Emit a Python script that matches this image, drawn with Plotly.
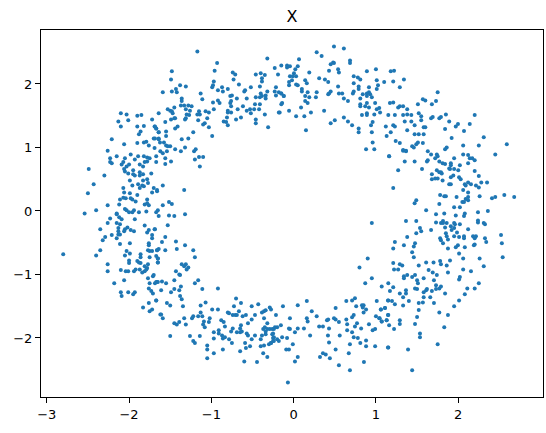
import plotly.graph_objects as go

title_text = "X"
x_ticks = [-3, -2, -1, 0, 1, 2]
y_ticks = [-2, -1, 0, 1, 2]

upper_left = [(-2.10,1.54),(-2.03,1.52),(-1.90,1.50),(-1.85,1.51),(-2.13,1.41),(-2.01,1.43),(-1.72,1.44),(-2.10,1.33),(-1.90,1.33),(-1.82,1.34),(-1.69,1.33),(-1.67,1.30),(-1.86,1.25),(-1.88,1.21),(-1.64,1.24),(-2.21,1.13),(-1.70,1.14),(-1.64,1.13),(-2.06,1.05),(-1.90,1.07),(-1.82,1.08),(-1.79,1.09),(-1.76,1.03),(-1.69,0.99),(-2.26,0.95),(-1.98,0.89),(-2.15,0.86),(-2.23,0.83),(-2.05,0.83),(-1.89,0.86),(-1.93,0.81),(-1.82,0.86),(-1.78,0.84),(-1.75,0.83),(-1.67,0.86),(-2.23,0.77),(-2.21,0.75),(-2.07,0.77),(-2.09,0.73),(-2.00,0.73),(-2.03,0.70),(-1.78,0.78),(-1.81,0.77),(-1.67,0.77),(-1.87,0.73),(-1.83,0.70),(-2.49,0.66),(-2.06,0.66),(-1.95,0.64),(-2.05,0.62),(-2.01,0.59),(-1.87,0.61),(-1.87,0.56),(-1.95,0.58),(-1.93,0.56),(-1.83,0.58),(-1.73,0.59),(-2.30,0.56),(-1.99,0.48),(-1.78,0.50),(-1.83,0.48),(-2.43,0.42),(-1.96,0.40),(-1.89,0.42),(-1.84,0.40),(-1.82,0.39),(-1.77,0.44),(-2.07,0.36),(-1.87,0.36),(-1.70,0.36),(-1.66,0.33),(-2.50,0.28),(-2.06,0.29),(-1.99,0.28),(-1.72,0.29),(-1.90,0.25),(-2.07,0.21),(-2.11,0.18),(-2.04,0.20),(-1.98,0.20),(-1.96,0.18),(-1.92,0.15),(-1.78,0.18),(-2.12,0.10),(-1.81,0.10),(-1.78,0.12),(-1.76,0.09),(-2.26,0.09),(-2.40,0.01),(-2.05,0.03),(-2.03,0.01),(-1.79,-0.01),(-1.94,0.01),(-1.96,-0.02),(-2.00,-0.02),(-1.88,-0.02),(-2.15,-0.04),(-2.54,-0.04),(-1.67,-0.02)]

lower_left = [(-2.23,-0.12),(-2.15,-0.05),(-2.12,-0.10),(-2.09,-0.13),(-1.93,-0.13),(-2.15,-0.19),(-2.11,-0.21),(-2.26,-0.19),(-1.81,-0.23),(-2.02,-0.26),(-2.05,-0.29),(-2.13,-0.27),(-2.35,-0.29),(-1.98,-0.30),(-1.94,-0.32),(-1.76,-0.30),(-1.78,-0.34),(-1.69,-0.29),(-2.06,-0.32),(-2.13,-0.32),(-2.11,-0.37),(-2.13,-0.37),(-2.21,-0.38),(-2.29,-0.41),(-2.32,-0.46),(-2.15,-0.43),(-1.72,-0.38),(-1.72,-0.43),(-2.11,-0.52),(-1.99,-0.51),(-1.76,-0.51),(-1.76,-0.54),(-2.35,-0.62),(-2.80,-0.68),(-2.40,-0.70),(-2.03,-0.63),(-1.99,-0.67),(-2.05,-0.70),(-1.86,-0.68),(-1.86,-0.73),(-1.77,-0.62),(-1.75,-0.63),(-1.72,-0.63),(-1.66,-0.62),(-1.75,-0.73),(-1.67,-0.71),(-1.65,-0.75),(-2.00,-0.78),(-2.00,-0.82),(-1.90,-0.79),(-1.88,-0.81),(-1.86,-0.82),(-1.65,-0.81),(-2.26,-0.84),(-1.77,-0.84),(-1.81,-0.87),(-1.78,-0.90),(-2.26,-0.95),(-2.10,-0.93),(-2.04,-0.95),(-2.01,-0.95),(-1.94,-0.95),(-1.92,-0.92),(-1.87,-0.92),(-1.84,-0.97),(-1.81,-0.95),(-1.79,-0.92),(-1.77,-1.06),(-1.71,-1.03),(-1.70,-1.01),(-2.06,-1.09),(-2.18,-1.14),(-1.75,-1.14),(-1.67,-1.12),(-1.65,-1.12),(-1.76,-1.22),(-1.73,-1.26),(-1.71,-1.30),(-2.10,-1.28),(-2.01,-1.28),(-1.93,-1.28),(-1.95,-1.31),(-2.09,-1.34),(-1.67,-1.41),(-1.76,-1.45),(-1.83,-1.52),(-1.72,-1.55),(-1.75,-1.58),(-1.62,-1.63)]

top_left = [(-1.17,2.51),(-0.32,2.40),(-0.93,2.33),(-0.15,2.29),(-0.23,2.25),(-0.96,2.21),(-1.48,2.20),(-0.74,2.18),(-0.71,2.15),(-0.46,2.15),(-0.40,2.17),(-0.35,2.14),(-0.19,2.15),(-1.49,2.07),(-0.73,2.07),(-0.385,2.09),(-0.385,2.04),(-0.97,2.04),(-1.38,1.98),(-1.31,1.96),(-0.98,1.98),(-0.99,1.95),(-0.665,1.99),(-0.87,1.95),(-0.80,1.92),(-0.86,1.88),(-0.92,1.90),(-0.52,1.95),(-0.41,1.96),(-0.215,1.95),(-0.23,1.88),(-1.43,1.92),(-1.48,1.88),(-1.59,1.87),(-1.42,1.87),(-1.13,1.85),(-0.59,1.90),(-0.60,1.88),(-0.40,1.85),(-0.32,1.88),(-0.18,1.87),(-0.15,1.85),(-0.34,1.82),(-0.75,1.82),(-0.77,1.81),(-0.46,1.79),(-0.41,1.79),(-0.385,1.81),(-0.69,1.77),(-0.57,1.77),(-0.34,1.77),(-0.12,1.81),(-0.215,1.82),(-1.11,1.76),(-0.92,1.74),(-1.36,1.77),(-1.36,1.73),(-0.98,1.71),(-0.90,1.70),(-0.76,1.73),(-0.77,1.70),(-0.47,1.68),(-0.41,1.68),(-0.14,1.70),(-1.37,1.66),(-1.33,1.66),(-1.28,1.66),(-1.24,1.65),(-1.45,1.63),(-0.616,1.65),(-0.76,1.65),(-1.53,1.60),(-1.50,1.58),(-1.31,1.60),(-1.26,1.58),(-1.48,1.57),(-1.47,1.54),(-0.97,1.60),(-0.68,1.60),(-0.80,1.58),(-0.80,1.55),(-0.76,1.55),(-0.53,1.60),(-0.57,1.58),(-0.48,1.60),(-0.42,1.60),(-0.52,1.54),(-1.64,1.54),(-1.07,1.57),(-1.03,1.55),(-1.15,1.57),(-1.17,1.52),(-1.14,1.52),(-1.30,1.52),(-1.27,1.51),(-0.35,1.52),(-0.18,1.55),(-0.81,1.47),(-0.70,1.44),(-0.64,1.47),(-1.49,1.44),(-1.45,1.46),(-1.44,1.46),(-1.31,1.46),(-1.32,1.44),(-1.16,1.43),(-1.05,1.46),(-0.46,1.44),(-0.46,1.38),(-1.56,1.40),(-0.85,1.41),(-0.82,1.40),(-1.08,1.38),(-1.10,1.36),(-0.80,1.35),(-1.41,1.33),(-1.44,1.30),(-1.03,1.32),(-0.31,1.32),(-1.685,1.33),(-1.67,1.30),(-1.64,1.24),(-1.55,1.25),(-1.22,1.24),(-1.55,1.18),(-0.99,1.18),(-1.685,1.14),(-1.64,1.14),(-1.28,1.14),(-1.36,1.13)]

top_right = [(0.49,2.59),(0.61,2.56),(0.28,2.50),(0.34,2.44),(0.065,2.39),(0.685,2.37),(0.685,2.33),(0.48,2.34),(0.45,2.31),(0.49,2.33),(-0.08,2.29),(-0.08,2.26),(-0.045,2.28),(0.05,2.28),(0.02,2.23),(0.43,2.21),(0.54,2.23),(0.55,2.18),(0.89,2.20),(1.00,2.23),(1.18,2.20),(1.22,2.21),(0.19,2.18),(0.004,2.17),(-0.045,2.12),(-0.01,2.12),(0.03,2.12),(0.73,2.12),(0.78,2.10),(0.81,2.07),(0.31,2.09),(0.38,2.07),(0.42,2.03),(0.14,2.06),(0.16,2.01),(-0.02,2.06),(-0.056,2.03),(-0.056,1.98),(0.03,1.99),(0.05,1.98),(0.73,2.01),(1.01,2.06),(1.10,2.03),(1.21,2.04),(1.34,2.07),(0.54,1.96),(0.79,1.96),(0.79,1.92),(0.915,1.95),(1.025,1.98),(1.01,1.92),(1.29,1.95),(0.10,1.92),(0.10,1.88),(0.17,1.87),(0.28,1.87),(0.45,1.88),(0.43,1.85),(0.42,1.84),(0.55,1.85),(0.59,1.85),(0.72,1.85),(0.73,1.88),(0.84,1.84),(0.89,1.85),(0.915,1.87),(0.93,1.84),(0.89,1.81),(0.95,1.79),(-0.15,1.85),(-0.12,1.81),(0.14,1.81),(0.19,1.79),(0.27,1.79),(0.61,1.77),(0.81,1.77),(0.66,1.73),(0.14,1.73),(0.17,1.70),(-0.15,1.68),(0.81,1.68),(0.81,1.65),(0.89,1.70),(0.87,1.65),(0.915,1.63),(0.99,1.70),(1.17,1.70),(1.21,1.71),(1.27,1.63),(1.29,1.65),(1.33,1.65),(1.38,1.60),(0.09,1.63),(-0.056,1.58),(0.21,1.55),(0.37,1.58),(1.04,1.62),(1.01,1.60),(1.05,1.55),(-0.17,1.55),(0.03,1.49),(0.13,1.49),(0.61,1.47),(0.83,1.51),(0.89,1.54),(0.89,1.51),(0.98,1.52),(1.15,1.51),(1.23,1.51),(1.33,1.51),(1.38,1.52),(0.50,1.43),(0.66,1.41),(0.45,1.38),(0.96,1.40),(0.94,1.35),(0.71,1.35),(0.79,1.30),(0.79,1.24),(0.95,1.24),(1.12,1.33),(1.21,1.35),(1.23,1.33),(1.35,1.41),(1.38,1.27),(0.15,1.27),(1.18,1.24),(1.13,1.18),(1.24,1.10),(1.29,1.07),(0.96,1.08),(0.88,0.97),(0.98,0.97),(1.33,0.95),(1.365,0.95),(1.16,0.86)]

right_upper = [(1.75,1.87),(1.57,1.76),(1.60,1.74),(1.73,1.73),(1.68,1.68),(1.51,1.68),(1.52,1.54),(1.55,1.49),(1.85,1.52),(2.20,1.51),(1.43,1.51),(1.67,1.46),(1.69,1.48),(1.77,1.46),(1.79,1.48),(1.55,1.43),(1.43,1.41),(1.89,1.41),(1.47,1.35),(1.58,1.32),(1.60,1.32),(2.14,1.37),(1.997,1.37),(1.97,1.33),(1.84,1.29),(2.07,1.26),(1.47,1.21),(1.52,1.21),(1.58,1.21),(2.31,1.16),(1.92,1.15),(1.51,1.08),(1.57,1.07),(1.49,1.05),(2.06,1.03),(2.25,1.03),(2.59,1.05),(1.44,1.02),(1.46,1.00),(1.86,1.00),(1.84,0.97),(1.33,0.96),(1.365,0.94),(1.63,0.94),(1.67,0.89),(1.74,0.89),(1.75,0.86),(2.06,0.89),(2.12,0.88),(2.45,0.89),(1.72,0.83),(1.95,0.83),(2.14,0.83),(2.17,0.83),(2.20,0.80),(1.35,0.78),(1.47,0.78),(1.62,0.78),(1.63,0.80),(1.77,0.78),(1.81,0.75),(1.84,0.74),(1.91,0.75),(1.91,0.72),(2.12,0.75),(2.02,0.72),(1.89,0.67),(1.90,0.66),(1.95,0.66),(2.00,0.64),(1.56,0.66),(1.74,0.64),(1.77,0.61),(1.79,0.61),(1.80,0.59),(2.20,0.63),(1.68,0.58),(1.94,0.56),(1.91,0.53),(2.01,0.53),(2.03,0.50),(2.25,0.55),(1.68,0.50),(1.72,0.51),(1.75,0.51),(1.81,0.48),(2.12,0.45),(2.28,0.45),(2.35,0.45),(2.08,0.42),(2.09,0.40),(2.155,0.42),(2.215,0.40),(2.25,0.37),(1.89,0.42),(1.91,0.42),(2.06,0.33),(2.12,0.29),(1.78,0.25),(1.83,0.23),(1.85,0.23),(1.98,0.22),(2.12,0.22),(2.26,0.23),(2.41,0.20),(2.45,0.22),(2.56,0.25),(2.68,0.22),(2.09,0.19),(2.12,0.17),(2.05,0.14),(2.07,0.14),(1.49,0.17),(1.47,0.12),(1.77,0.11),(1.95,0.06),(2.02,0.06),(1.61,0.01),(2.36,0.00),(2.24,-0.02),(1.73,-0.05),(1.83,-0.04),(1.97,-0.07),(2.08,-0.04),(2.07,-0.08)]

right_lower = [(1.365,-0.16),(1.49,-0.16),(2.24,-0.15),(2.24,-0.18),(2.31,-0.19),(2.325,-0.21),(1.73,-0.18),(1.79,-0.19),(1.815,-0.16),(1.815,-0.19),(1.86,-0.19),(1.95,-0.19),(1.96,-0.21),(2.02,-0.21),(1.84,-0.26),(1.91,-0.24),(1.95,-0.27),(1.92,-0.30),(1.535,-0.27),(1.55,-0.32),(1.67,-0.30),(2.12,-0.29),(1.49,-0.35),(1.85,-0.35),(1.985,-0.34),(1.38,-0.41),(1.86,-0.40),(1.95,-0.40),(2.01,-0.41),(2.07,-0.40),(2.07,-0.43),(2.18,-0.40),(2.215,-0.40),(2.20,-0.43),(2.325,-0.43),(2.52,-0.38),(1.78,-0.43),(1.79,-0.46),(1.875,-0.45),(2.34,-0.49),(2.53,-0.51),(1.23,-0.49),(1.475,-0.51),(1.46,-0.56),(1.34,-0.54),(1.815,-0.51),(1.996,-0.54),(1.97,-0.57),(2.08,-0.57),(2.20,-0.53),(2.19,-0.54),(1.21,-0.59),(1.875,-0.59),(1.44,-0.65),(2.01,-0.67),(1.46,-0.73),(2.06,-0.75),(2.26,-0.75),(2.54,-0.73),(1.90,-0.78),(1.21,-0.82),(1.29,-0.84),(1.32,-0.86),(1.52,-0.86),(1.61,-0.81),(1.70,-0.81),(1.78,-0.79),(1.79,-0.84),(1.86,-0.86),(2.31,-0.87),(1.22,-0.92),(1.27,-0.92),(1.64,-0.93),(1.69,-0.97),(1.875,-0.97),(2.06,-0.92),(2.155,-0.95),(1.38,-1.01),(1.34,-1.03),(1.34,-1.06),(1.44,-1.04),(1.475,-1.01),(1.74,-1.01),(1.58,-1.06),(2.02,-1.04),(2.01,-1.08),(1.50,-1.09),(1.705,-1.09),(1.51,-1.14),(2.25,-1.14),(1.15,-1.14),(1.07,-1.19),(1.21,-1.20),(1.73,-1.17),(1.79,-1.19),(1.77,-1.22),(1.73,-1.23),(1.475,-1.22),(1.50,-1.23),(1.62,-1.23),(1.61,-1.25),(2.11,-1.22),(2.20,-1.22),(1.17,-1.26),(1.365,-1.25),(1.365,-1.30),(1.29,-1.30),(1.58,-1.28),(1.68,-1.26),(1.84,-1.30),(2.08,-1.31),(1.58,-1.36),(1.33,-1.36),(1.66,-1.36),(1.15,-1.41),(1.195,-1.42),(1.40,-1.42),(2.01,-1.41),(1.52,-1.45),(1.57,-1.44),(1.705,-1.45),(1.23,-1.47),(1.33,-1.49),(1.95,-1.50),(1.06,-1.55),(1.11,-1.53),(1.52,-1.56),(1.77,-1.60),(1.15,-1.64),(1.875,-1.64),(1.50,-1.67),(1.045,-1.69),(1.13,-1.72),(1.07,-1.74),(1.29,-1.72),(1.29,-1.78),(1.16,-1.80),(1.475,-1.78),(1.83,-1.83),(1.22,-1.86),(1.535,-1.93),(1.535,-1.99),(1.75,-2.10),(1.15,-2.15),(1.39,-2.18),(1.44,-2.51)]

bottom_left = [(-1.685,-1.14),(-1.66,-1.12),(-1.60,-1.11),(-1.55,-1.14),(-1.45,-1.09),(-1.20,-1.14),(-1.16,-1.09),(-1.61,-1.25),(-1.49,-1.28),(-1.45,-1.23),(-1.39,-1.25),(-1.37,-1.19),(-1.11,-1.23),(-0.92,-1.22),(-1.38,-1.34),(-1.36,-1.39),(-1.67,-1.41),(-1.54,-1.45),(-1.50,-1.49),(-1.345,-1.50),(-1.13,-1.49),(-1.07,-1.44),(-0.70,-1.38),(-0.64,-1.45),(-0.725,-1.50),(-0.51,-1.50),(-0.43,-1.47),(-0.29,-1.52),(-0.275,-1.55),(-0.99,-1.55),(-0.92,-1.55),(-0.665,-1.58),(-0.34,-1.565),(-0.36,-1.58),(-0.385,-1.60),(-1.13,-1.60),(-0.80,-1.60),(-0.785,-1.61),(-0.74,-1.64),(-0.71,-1.64),(-0.69,-1.64),(-0.58,-1.64),(-0.62,-1.66),(-0.47,-1.64),(-1.61,-1.63),(-1.59,-1.69),(-1.33,-1.69),(-1.22,-1.66),(-1.235,-1.69),(-1.16,-1.66),(-1.11,-1.66),(-1.09,-1.74),(-1.10,-1.79),(-1.02,-1.69),(-1.03,-1.75),(-1.08,-1.83),(-0.88,-1.72),(-0.85,-1.75),(-0.835,-1.82),(-1.45,-1.77),(-1.42,-1.79),(-1.39,-1.75),(-1.31,-1.79),(-0.51,-1.71),(-0.555,-1.77),(-0.64,-1.80),(-0.36,-1.69),(-0.32,-1.77),(-0.74,-1.85),(-0.76,-1.90),(-0.69,-1.91),(-0.65,-1.91),(-0.63,-1.90),(-0.65,-1.85),(-0.91,-1.88),(-0.97,-1.91),(-0.91,-1.93),(-0.87,-1.96),(-1.50,-1.97),(-1.26,-1.97),(-1.14,-1.97),(-0.97,-2.01),(-0.86,-2.01),(-0.835,-1.99),(-0.785,-2.02),(-0.75,-2.08),(-1.22,-2.05),(-1.20,-2.08),(-1.05,-2.12),(-1.05,-2.18),(-0.86,-2.18),(-0.97,-2.24),(-1.05,-2.32),(-0.59,-2.08),(-0.58,-2.16),(-0.53,-2.13),(-0.65,-2.21),(-0.60,-2.37),(-0.445,-2.38),(-0.32,-2.30),(-0.37,-2.24),(-0.40,-2.13),(-0.36,-2.12),(-0.30,-2.10),(-0.275,-2.08),(-0.25,-2.05),(-0.40,-2.02),(-0.385,-1.96),(-0.34,-1.94),(-0.34,-1.90),(-0.37,-1.86),(-0.35,-1.83),(-0.32,-1.86),(-0.29,-1.86),(-0.47,-1.96),(-0.51,-2.02),(-0.555,-1.96),(-0.57,-1.93),(-0.25,-1.93),(-0.24,-1.99)]

bottom_right = [(-0.13,-1.50),(0.05,-1.485),(0.16,-1.42),(0.51,-1.53),(0.64,-1.42),(0.71,-1.41),(0.745,-1.375),(1.01,-1.42),(1.146,-1.41),(0.76,-1.50),(0.83,-1.485),(0.85,-1.485),(0.84,-1.52),(0.88,-1.55),(0.85,-1.60),(1.06,-1.55),(1.11,-1.53),(0.22,-1.58),(0.28,-1.66),(-0.215,-1.64),(-0.045,-1.69),(0.16,-1.69),(0.17,-1.74),(0.405,-1.72),(0.42,-1.71),(0.49,-1.69),(0.51,-1.71),(0.55,-1.75),(0.64,-1.71),(0.71,-1.675),(0.73,-1.64),(1.00,-1.66),(1.04,-1.69),(1.07,-1.74),(1.13,-1.72),(1.146,-1.64),(-0.155,-1.80),(-0.20,-1.83),(-0.227,-1.83),(-0.24,-1.86),(-0.26,-1.86),(-0.057,-1.85),(-0.045,-1.86),(0.016,-1.91),(0.05,-1.85),(0.125,-1.85),(0.31,-1.82),(0.356,-1.82),(0.43,-1.85),(0.65,-1.785),(0.745,-1.82),(0.77,-1.77),(0.82,-1.85),(0.915,-1.785),(0.99,-1.86),(0.96,-1.88),(0.65,-1.88),(0.71,-1.91),(-0.26,-1.94),(0.20,-1.96),(0.417,-1.96),(0.56,-1.96),(-0.14,-1.99),(-0.08,-2.00),(-0.25,-2.00),(-0.20,-2.02),(-0.18,-2.05),(-0.24,-2.05),(-0.276,-2.08),(0.73,-1.99),(0.78,-2.00),(0.88,-2.04),(0.43,-2.07),(-0.01,-2.10),(0.81,-2.08),(0.684,-2.10),(0.88,-2.13),(0.99,-2.13),(1.146,-2.15),(-0.09,-2.18),(-0.057,-2.18),(0.51,-2.18),(0.356,-2.24),(0.39,-2.26),(0.67,-2.24),(0.05,-2.30),(0.32,-2.30),(0.44,-2.32),(0.016,-2.37),(0.854,-2.38),(0.55,-2.43),(0.684,-2.51),(-0.07,-2.70)]

inner_left = [(-1.576,1.08),(-1.624,1.08),(-1.55,1.03),(-1.50,1.02),(-1.53,1.02),(-1.44,0.97),(-1.37,0.94),(-1.32,1.00),(-1.21,0.94),(-1.19,0.97),(-1.54,0.94),(-1.59,0.91),(-1.62,0.94),(-1.15,0.85),(-1.10,0.85),(-1.20,0.81),(-1.56,0.83),(-1.49,0.78),(-1.56,0.74),(-1.14,0.70),(-1.59,0.40),(-1.33,0.33),(-1.66,0.31),(-1.59,0.09),(-1.515,0.14),(-1.48,0.11),(-1.65,0.01),(-1.515,-0.07),(-1.45,-0.08),(-1.32,-0.05),(-1.64,-0.08),(-1.53,-0.225),(-1.685,-0.29),(-1.56,-0.41),(-1.60,-0.49),(-1.43,-0.48),(-1.32,-0.54),(-1.66,-0.62),(-1.64,-0.60),(-1.56,-0.62),(-1.42,-0.60),(-1.22,-0.62),(-1.65,-0.75),(-1.20,-0.73),(-1.65,-0.81),(-1.36,-0.84),(-1.31,-0.84),(-1.33,-0.87),(-1.28,-0.89),(-1.30,-0.92),(-1.43,-0.95),(-1.39,-1.00),(-1.38,-1.01)]

inner_right = [(1.16,0.86),(1.27,0.64),(1.21,0.36),(0.95,-0.19),(0.90,-0.75),(0.80,-0.89),(0.95,-1.06),(0.87,-1.14)]

groups = [upper_left, lower_left, top_left, top_right, right_upper,
          right_lower, bottom_left, bottom_right, inner_left, inner_right]
x_values = [p[0] for g in groups for p in g]
y_values = [p[1] for g in groups for p in g]

fig = go.Figure(go.Scatter(
    x=x_values, y=y_values, mode="markers",
    marker=dict(color="#1f77b4", size=4, line=dict(width=0)),
    hoverinfo="skip",
))

axis_style = dict(
    showgrid=False, zeroline=False, showline=True, mirror=True,
    linecolor="black", linewidth=1.1, automargin=False,
    ticks="outside", ticklen=5, tickwidth=1.1, tickcolor="black",
    tickfont=dict(family="DejaVu Sans", size=13, color="black"),
)

fig.update_layout(
    width=546, height=433,
    margin=dict(l=41, r=3, t=30, b=36),
    paper_bgcolor="white", plot_bgcolor="white",
    showlegend=False,
    title=dict(text=title_text, x=(41 + 543) / 2 / 546, xanchor="center",
               y=1 - 16 / 433, yanchor="middle", automargin=False,
               font=dict(family="DejaVu Sans", size=16, color="black")),
    xaxis=dict(range=[-3.07, 3.03], tickvals=x_ticks, **axis_style),
    yaxis=dict(range=[-2.93, 2.85], tickvals=y_ticks, **axis_style),
)

fit_page = """
document.documentElement.style.overflow = 'hidden';
document.body.style.margin = '0';
document.body.style.overflow = 'hidden';
Plotly.relayout(document.getElementById('{plot_id}'), {width: 546, height: 433});
"""
fig.write_html("out.html", post_script=fit_page, config={"displayModeBar": False})
